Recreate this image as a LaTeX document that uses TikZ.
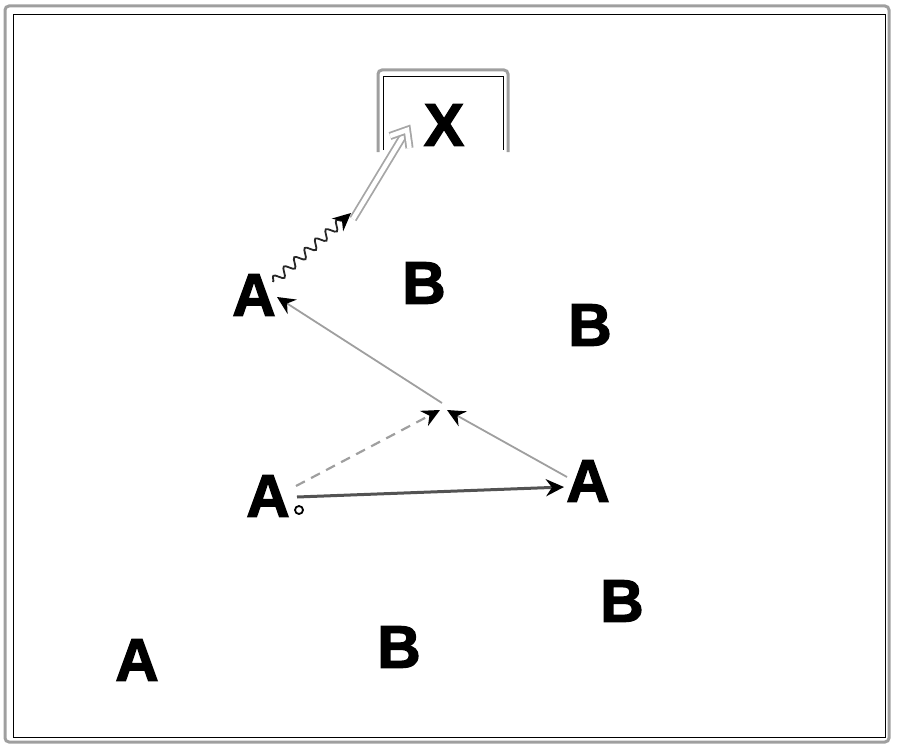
\documentclass[tikz,border=0pt]{standalone}
\usepackage{fontspec}
\newfontfamily\heavyfont{Liberation Sans Bold}[FakeBold=2.2]
\usetikzlibrary{arrows.meta,decorations.pathmorphing}
\begin{document}
\begin{tikzpicture}[x=1pt,y=-1pt,
  player/.style={font=\fontsize{60}{60}\heavyfont, inner sep=0pt, text=black},
  frameouter/.style={line width=3pt, draw=gray!75, rounded corners=4pt},
  frameinner/.style={line width=0.9pt, draw=black},
  blacktip/.style={-{Stealth[length=18pt,width=17pt,inset=6pt,color=black]}},
  passline/.style={draw=gray!65!black, line width=3pt},
  runline/.style={draw=gray!75, line width=1.8pt},
  dashline/.style={draw=gray!75, line width=2.2pt, dash pattern=on 10pt off 7pt},
  waveline/.style={draw=black!85, line width=1.8pt, decorate,
     decoration={snake, amplitude=4.5pt, segment length=14pt, post length=10pt}},
  shotline/.style={draw=gray!70, line width=1.8pt, double=white, double distance=4.5pt}
]
\useasboundingbox (0,0) rectangle (900,752);

% frame
\draw[frameouter] (5,6) rectangle (889,742);
\draw[frameinner] (13,14) rectangle (885,737);

% goal
\draw[frameouter] (378,152) -- (378,70) -- (508,70) -- (508,152);
\draw[frameinner] (383,150) -- (383,76) -- (503,76) -- (503,150);

% players
\node[player] (X)  at (444,125) {X};
\node[player] (A1) at (137,660) {A};
\node[player] (A2) at (254,295) {A};
\node[player] (A3) at (268,496) {A};
\node[player] (A4) at (588,481) {A};
\node[player] (B1) at (424,283) {B};
\node[player] (B2) at (590,325) {B};
\node[player] (B3) at (399,647) {B};
\node[player] (B4) at (622,601) {B};
\node[draw, circle, line width=1.8pt, inner sep=0pt, minimum size=8pt] (ball) at (299,510) {};

% connector end points
\coordinate (passS) at (297,497);
\coordinate (passE) at (564,487);
\coordinate (dashS) at (296,486);
\coordinate (m1) at (440,410);
\coordinate (runS) at (567,477);
\coordinate (m2) at (447,410);
\coordinate (m0) at (442,403);
\coordinate (A2in) at (277,297);
\coordinate (waveS) at (273,282);
\coordinate (waveE) at (351,213);
\coordinate (shotS) at (353,219);
\coordinate (shotE) at (405,133);
\coordinate (shotTip) at (407,130);
\coordinate (armL) at (390,136);
\coordinate (armR) at (409.5,148);

% pass A3 -> A4
\draw[passline, blacktip] (passS) -- (passE);
% run of A3 (dashed)
\draw[dashline, blacktip] (dashS) -- (m1);
% run of A4
\draw[runline, blacktip] (runS) -- (m2);
% pass to A2
\draw[runline, blacktip] (m0) -- (A2in);
% dribble of A2
\draw[waveline, blacktip] (waveS) -- (waveE);
% shot on goal
\draw[shotline] (shotS) -- (shotE);
\draw[shotline, line join=miter] (armL) -- (shotTip) -- (armR);
\end{tikzpicture}
\end{document}
